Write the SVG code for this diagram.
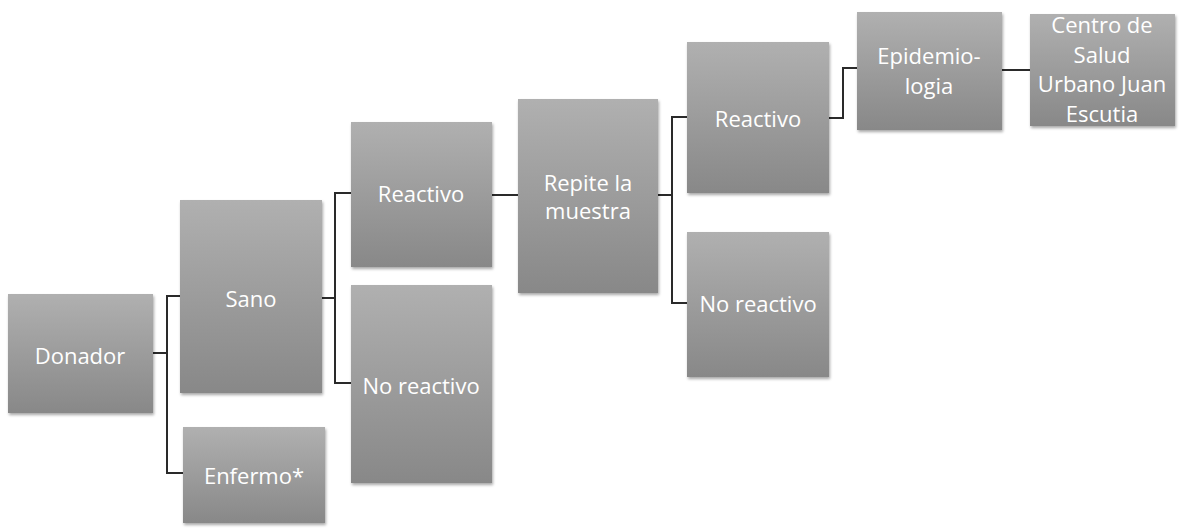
<svg xmlns="http://www.w3.org/2000/svg" width="1179" height="528" viewBox="0 0 1179 528">
<defs>
<linearGradient id="g" x1="0" y1="0" x2="0" y2="1">
<stop offset="0" stop-color="#b0b0b0"/>
<stop offset="1" stop-color="#888888"/>
</linearGradient>
<filter id="sh" x="-10%" y="-10%" width="120%" height="120%">
<feGaussianBlur in="SourceAlpha" stdDeviation="1.5"/>
<feOffset dx="1" dy="2"/>
<feComponentTransfer><feFuncA type="linear" slope="0.35"/></feComponentTransfer>
<feMerge><feMergeNode/><feMergeNode in="SourceGraphic"/></feMerge>
</filter>
</defs>
<style>
.box{fill:url(#g);filter:url(#sh)}
.t{font-family:"Open Sans","Liberation Sans",sans-serif;font-size:22px;fill:#ffffff;text-anchor:middle;dominant-baseline:central}
.c{fill:none;stroke:#2a2a2a;stroke-width:2}
</style>
<rect width="1179" height="528" fill="#ffffff"/>
<g id="connectors">
<path class="c" d="M153 353 H167 M181 296 H167 V473 H183"/>
<path class="c" d="M322 298 H335 M351 193 H335 V383 H351"/>
<path class="c" d="M492 195 H518"/>
<path class="c" d="M658 195 H672 M687 117 H672 V303 H687"/>
<path class="c" d="M829 118 H843 V68 H857"/>
<path class="c" d="M1002 70 H1030"/>
</g>
<g id="donador"><rect class="box" x="8" y="294" width="145" height="119"/><text class="t" x="80" y="355">Donador</text></g>
<g id="sano"><rect class="box" x="180" y="200" width="142" height="193"/><text class="t" x="251" y="298">Sano</text></g>
<g id="enfermo"><rect class="box" x="183" y="427" width="142" height="96"/><text class="t" x="254" y="475">Enfermo*</text></g>
<g id="reactivo1"><rect class="box" x="351" y="122" width="141" height="145"/><text class="t" x="421" y="193">Reactivo</text></g>
<g id="noreactivo1"><rect class="box" x="351" y="285" width="141" height="198"/><text class="t" x="421" y="385">No reactivo</text></g>
<g id="repite"><rect class="box" x="518" y="99" width="140" height="194"/><text class="t" x="588" y="182">Repite la</text><text class="t" x="588" y="210">muestra</text></g>
<g id="reactivo2"><rect class="box" x="687" y="42" width="142" height="151"/><text class="t" x="758" y="118">Reactivo</text></g>
<g id="noreactivo2"><rect class="box" x="687" y="232" width="142" height="145"/><text class="t" x="758" y="303">No reactivo</text></g>
<g id="epidemiologia"><rect class="box" x="857" y="12" width="145" height="118"/><text class="t" x="929" y="55">Epidemio-</text><text class="t" x="929" y="85">logia</text></g>
<g id="centro"><rect class="box" x="1030" y="14" width="145" height="112"/><text class="t" x="1102" y="24">Centro de</text><text class="t" x="1102" y="54">Salud</text><text class="t" x="1102" y="83">Urbano Juan</text><text class="t" x="1102" y="113">Escutia</text></g>
</svg>
